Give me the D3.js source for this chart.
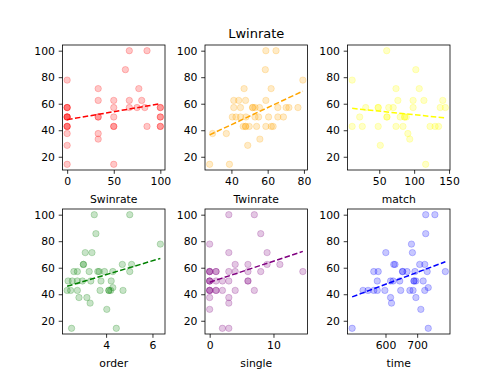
<!DOCTYPE html>
<html><head><meta charset="utf-8">
<script src="https://cdn.jsdelivr.net/npm/d3@7"></script>
<style>body{margin:0;background:#fff} svg{display:block} text{font-family:"DejaVu Sans",sans-serif;fill:#000}</style>
</head><body><svg id="c" width="500" height="375"></svg>
<script>
const titleText = "Lwinrate";
const panelNames = ["Swinrate","Twinrate","match","order","single","time"];
const panelColors = ["red","orange","yellow","green","purple","blue"];

const swinratePts = [[0,77.8],[0,57.1],[0,57.1],[0,57.1],[0,50],[0,50],[0,50],[0,50],[0,42.9],[0,42.9],[0,42.9],[0,37.5],[0,28.6],[0,14.3],
 [33.3,71.4],[33.3,62.5],[33.3,50],[33.3,50],[33.3,37.5],[33.3,33.3],
 [50,62.5],[50,57.1],[50,50],[50,42.9],[50,42.9],[50,14.3],
 [66.7,100],[62.5,85.7],[66.7,62.5],[66.7,57.1],[75,57.1],[76.9,71.4],[80,62.5],[83.3,57.1],[85.7,100],[85.7,42.9],
 [100,57.1],[100,57.1],[100,50],[100,50],[100,42.9],[100,42.9]];
const twinratePts = [[28,14.3],[38.9,14.3],[29.6,37.5],[37.2,37.5],[40.5,50],[41.3,57.1],[41.3,62.5],[44,62.5],[47,71.4],[47.8,62.5],[45,57.1],[45,50],[42.5,50],[47.8,42.9],[47.8,42.9],[49.8,42.9],[46.5,42.9],[49,28.6],[51.7,57.1],[51.7,57.1],[53,57.1],[53,50],[55,50],[53.9,42.9],[55.7,33.3],[59,100],[64.6,100],[58.7,85.7],[61.9,71.4],[59,62.5],[60.5,50],[59,42.9],[62,42.9],[63,42.9],[65.6,57.1],[65.6,50],[68.7,50],[70.2,57.1],[71.7,57.1],[76.7,57.1],[79.4,77.8],[55.5,57.1],[48,50]];
const matchPts = [[11.2,77.8],[11.2,42.9],[22,50],[25.7,42.9],[30.6,57.1],[48.5,57.1],[48.5,57.1],[48.5,42.9],[51.5,28.6],[60.7,100],[61,50],[61,50],[63.6,57.1],[70,57.1],[74,71.4],[74,42.9],[76.7,62.5],[80,50],[84,42.9],[86.4,50],[86.4,50],[88.8,50],[91,37.5],[93.7,33.3],[98.5,62.5],[98.5,57.1],[102.4,85.7],[107.3,71.4],[114,62.5],[116.5,14.3],[122.8,42.9],[130,42.9],[135,42.9],[137.4,57.1],[141,62.5],[144.7,57.1]];
const orderPts = [[2.51,14.3],[3.49,100],[5.02,100],[3.56,85.7],[6.34,77.8],[3.1,71.4],[3.39,71.4],[3.02,62.5],[3.02,62.5],[2.61,57.1],[2.76,57.1],[3.27,57.1],[3.64,57.1],[3.7,57.1],[3.93,57.1],[4.29,57.1],[4.7,62.5],[5.1,62.5],[5.02,57.1],[2.36,50],[2.54,50],[2.76,50],[2.98,50],[3.34,50],[3.78,50],[4.22,50],[2.32,42.9],[2.47,42.9],[2.76,42.9],[3.74,42.9],[4.12,42.9],[4.12,42.9],[4.2,42.9],[4.73,42.9],[2.83,37.5],[3.17,37.5],[3.31,33.3],[4.03,28.6],[4.44,14.3],[4.29,45]];
const singlePts = [[0,77.8],[0,57.1],[0,57.1],[0,57.1],[0,50],[0,50],[0,50],[0,42.9],[0,42.9],[0,42.9],[0,37.5],[0,28.6],[1,57.1],[1,57.1],[1,42.9],[1,42.9],[1,50],[2,50],[2,42.9],[2,14.3],[3,14.3],[3,100],[7,100],[8,85.7],[3,71.4],[3,57.1],[3,50],[3,37.5],[3,33.3],[4,62.5],[4,57.1],[4,42.9],[6,62.5],[6,57.1],[6,50],[6,50],[7,42.9],[8,57.1],[9,71.4],[9,62.5],[11,62.5],[14.6,57.1]];
const timePts = [[494.7,14.3],[529,42.9],[545,42.9],[563,57.1],[577,57.1],[574,50],[563,42.9],[574,42.9],[598,42.9],[601,71.4],[616,37.5],[619,33.3],[616,50],[624,50],[626,62.5],[630,62.5],[645,50],[648,42.9],[654,57.1],[654,57.1],[668,57.1],[682,77.8],[685,71.4],[677,42.9],[687,42.9],[693,57.1],[690,50],[690,50],[696,50],[696,37.5],[711.6,28.6],[708,62.5],[719,50],[724,62.5],[724,42.9],[727,100],[756,100],[727,85.7],[731.6,57.1],[735,45],[735,14.3],[789,57.1]];

const panelData = [swinratePts, twinratePts, matchPts, orderPts, singlePts, timePts];
const xTicks = [[0,50,100],[40,60,80],[50,100,150],[4,6],[0,10],[600,700]];
const yTicks = [20,40,60,80,100];
// dashed trend line: Lwinrate value at the smallest and largest x of each panel
const trendY = [[48,60],[36.5,69.5],[56.5,49.3],[46,67],[49,72.3],[38,64.5]];

const svg = d3.select("#c");
const colX = [62.5, 205, 347.5], rowY = [45, 209], W = 102.5, H = 125;
const tickLen = 3.8, tickPad = 3.8, fs = 10.8;

panelData.forEach((pts, i) => {
  const x0 = colX[i % 3], y0 = rowY[Math.floor(i / 3)];
  const g = svg.append("g").attr("transform", `translate(${x0},${y0})`);
  const xe = d3.extent(pts, d => d[0]), ye = d3.extent(pts, d => d[1]);
  const xp = (xe[1] - xe[0]) * 0.05, yp = (ye[1] - ye[0]) * 0.05;
  const x = d3.scaleLinear().domain([xe[0] - xp, xe[1] + xp]).range([0, W]);
  const y = d3.scaleLinear().domain([ye[0] - yp, ye[1] + yp]).range([H, 0]);

  g.selectAll("circle").data(pts).join("circle")
    .attr("cx", d => x(d[0])).attr("cy", d => y(d[1])).attr("r", 3.2)
    .attr("fill", panelColors[i]).attr("fill-opacity", 0.22)
    .attr("stroke", panelColors[i]).attr("stroke-opacity", 0.22).attr("stroke-width", 1);

  g.append("line")
    .attr("x1", x(xe[0])).attr("y1", y(trendY[i][0]))
    .attr("x2", x(xe[1])).attr("y2", y(trendY[i][1]))
    .attr("stroke", panelColors[i]).attr("stroke-width", 1.5)
    .attr("stroke-dasharray", "5.5,2.4");

  g.append("rect").attr("width", W).attr("height", H)
    .attr("fill", "none").attr("stroke", "#000").attr("stroke-width", 0.8);

  const xa = g.append("g").attr("transform", `translate(0,${H})`)
    .call(d3.axisBottom(x).tickValues(xTicks[i]).tickSize(tickLen).tickPadding(tickPad).tickFormat(d3.format("d")));
  const ya = g.append("g")
    .call(d3.axisLeft(y).tickValues(yTicks).tickSize(tickLen).tickPadding(tickPad).tickFormat(d3.format("d")));
  [xa, ya].forEach(a => {
    a.select(".domain").remove();
    a.selectAll("line").attr("stroke", "#000").attr("stroke-width", 0.8);
    a.selectAll("text").attr("font-size", fs).attr("font-family", "DejaVu Sans").attr("fill", "#000");
  });

  g.append("text").attr("x", W / 2).attr("y", H + 32.5)
    .attr("text-anchor", "middle").attr("font-size", fs).text(panelNames[i]);

  if (i === 1) {
    g.append("text").attr("x", W / 2).attr("y", -7)
      .attr("text-anchor", "middle").attr("font-size", 13).text(titleText);
  }
});
</script></body></html>
